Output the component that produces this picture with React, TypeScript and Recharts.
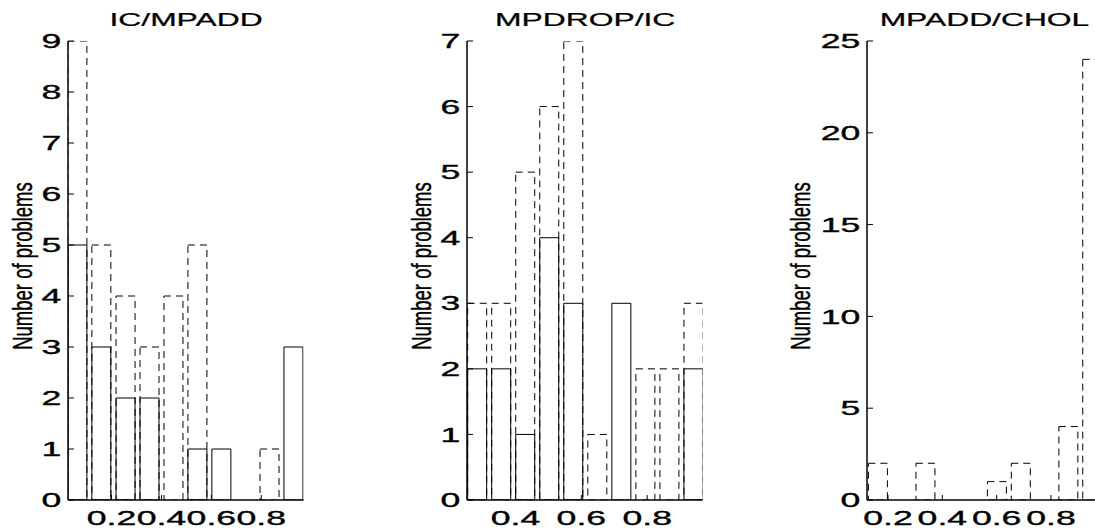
import React from 'react';
import { ComposedChart, Bar, XAxis, YAxis } from 'recharts';

const FONT = '"Liberation Sans", Arial, Helvetica, sans-serif';

const titles = ['IC/MPADD', 'MPDROP/IC', 'MPADD/CHOL'];
const yLabel = 'Number of problems';

// Panel 1: IC/MPADD
const centersA = [0.065, 0.161, 0.258, 0.354, 0.45, 0.546, 0.642, 0.738, 0.835, 0.931];
const solidA = [5, 3, 2, 2, 0, 1, 1, 0, 0, 3];
const dashedA = [9, 5, 4, 3, 4, 5, 0, 0, 1, 0];
const xDomainA: [number, number] = [0.0254, 0.9693];
const xTicksA = [0.2, 0.4, 0.6, 0.8];
const yDomainA: [number, number] = [0, 9];
const yTicksA = [0, 1, 2, 3, 4, 5, 6, 7, 8, 9];

// Panel 2: MPDROP/IC
const centersB = [0.282, 0.355, 0.428, 0.501, 0.574, 0.647, 0.72, 0.793, 0.866, 0.939];
const solidB = [2, 2, 1, 4, 3, 0, 3, 0, 0, 2];
const dashedB = [3, 3, 5, 6, 7, 1, 0, 2, 2, 3];
const xDomainB: [number, number] = [0.2526, 0.968];
const xTicksB = [0.4, 0.6, 0.8];
const yDomainB: [number, number] = [0, 7];
const yTicksB = [0, 1, 2, 3, 4, 5, 6, 7];

// Panel 3: MPADD/CHOL
const centersC = [0.164, 0.252, 0.339, 0.427, 0.515, 0.602, 0.69, 0.778, 0.865, 0.953];
const solidC = [0, 0, 0, 0, 0, 0, 0, 0, 0, 0];
const dashedC = [2, 0, 2, 0, 0, 1, 2, 0, 4, 24];
const xDomainC: [number, number] = [0.1227, 0.9895];
const xTicksC = [0.2, 0.4, 0.6, 0.8];
const yDomainC: [number, number] = [0, 25];
const yTicksC = [0, 5, 10, 15, 20, 25];

const PLOT_W = 235.5;
const Y_AXIS_W = 68;
const RIGHT_M = 6;
const TOP = 41;
const X_AXIS_H = 29;
const H = 529;

const TICK_FS = 20;
const TICK_SX = 1.78;

const LeftTick = (props: any) => {
  const { x, y, payload } = props;
  return (
    <g>
      <line x1={x} y1={y} x2={x + 6} y2={y} stroke="#000" strokeWidth={1} />
      <text
        transform={`translate(${x - 6.6},${y + 7.2}) scale(${TICK_SX},1)`}
        textAnchor="end"
        fontSize={TICK_FS}
        fontFamily={FONT}
        fill="#000"
        stroke="#000"
        strokeWidth={0.35}
      >
        {payload.value}
      </text>
    </g>
  );
};

const RightTick = (props: any) => {
  const { x, y } = props;
  return <line x1={x} y1={y} x2={x - 6} y2={y} stroke="#000" strokeWidth={1} />;
};

const BottomTick = (props: any) => {
  const { x, y, payload } = props;
  return (
    <g>
      <line x1={x} y1={y} x2={x} y2={y - 5} stroke="#000" strokeWidth={1} />
      <text
        transform={`translate(${x},${y + 24.5}) scale(${TICK_SX},1)`}
        textAnchor="middle"
        fontSize={TICK_FS}
        fontFamily={FONT}
        fill="#000"
        stroke="#000"
        strokeWidth={0.35}
      >
        {payload.value}
      </text>
    </g>
  );
};

const TopTick = (props: any) => {
  const { x, y } = props;
  return <line x1={x} y1={y} x2={x} y2={y + 5} stroke="#000" strokeWidth={1} />;
};

type PanelProps = {
  left: number;
  centers: number[];
  solid: number[];
  dashed: number[];
  xDomain: [number, number];
  xTicks: number[];
  yDomain: [number, number];
  yTicks: number[];
};

const axisLine = { stroke: '#000', strokeWidth: 1.5 };

function Panel({ left, centers, solid, dashed, xDomain, xTicks, yDomain, yTicks }: PanelProps) {
  const data = centers.map((x, i) => ({ x, solid: solid[i], dashed: dashed[i] }));
  return (
    <div style={{ position: 'absolute', left: left - Y_AXIS_W, top: 0 }}>
      <ComposedChart
        width={Y_AXIS_W + PLOT_W + RIGHT_M}
        height={H}
        data={data}
        margin={{ top: TOP, right: RIGHT_M, bottom: 0, left: 0 }}
      >
        <XAxis
          xAxisId="bottom"
          orientation="bottom"
          dataKey="x"
          type="number"
          domain={xDomain}
          allowDataOverflow
          ticks={xTicks}
          interval={0}
          height={X_AXIS_H}
          tickLine={false}
          tickSize={0}
          tickMargin={0}
          axisLine={axisLine}
          tick={<BottomTick />}
        />
        <XAxis
          xAxisId="top"
          orientation="top"
          dataKey="x"
          type="number"
          domain={xDomain}
          allowDataOverflow
          ticks={xTicks}
          interval={0}
          height={0}
          tickLine={false}
          tickSize={0}
          tickMargin={0}
          axisLine={axisLine}
          tick={<TopTick />}
        />
        <YAxis
          yAxisId="left"
          orientation="left"
          type="number"
          domain={yDomain}
          allowDataOverflow
          ticks={yTicks}
          interval={0}
          width={Y_AXIS_W}
          tickLine={false}
          tickSize={0}
          tickMargin={0}
          axisLine={axisLine}
          tick={<LeftTick />}
        />
        <YAxis
          yAxisId="right"
          orientation="right"
          type="number"
          domain={yDomain}
          allowDataOverflow
          ticks={yTicks}
          interval={0}
          width={0}
          tickLine={false}
          tickSize={0}
          tickMargin={0}
          axisLine={axisLine}
          tick={<RightTick />}
        />
        <Bar
          xAxisId="top"
          yAxisId="right"
          dataKey="dashed"
          barSize={19}
          fill="none"
          stroke="#000"
          strokeWidth={1}
          strokeDasharray="7 5"
          isAnimationActive={false}
        />
        <Bar
          xAxisId="bottom"
          yAxisId="left"
          dataKey="solid"
          barSize={19}
          fill="none"
          stroke="#000"
          strokeWidth={1}
          isAnimationActive={false}
        />
      </ComposedChart>
    </div>
  );
}

const panelLefts = [68.3, 467.4, 866.7];
const labelOffsets = [36, 36, 57];

export default function App() {
  return (
    <div
      style={{
        position: 'absolute',
        left: 0,
        top: 0,
        width: 1095,
        height: 529,
        overflow: 'hidden',
        background: '#fff',
      }}
    >
      <Panel left={panelLefts[0]} centers={centersA} solid={solidA} dashed={dashedA} xDomain={xDomainA} xTicks={xTicksA} yDomain={yDomainA} yTicks={yTicksA} />
      <Panel left={panelLefts[1]} centers={centersB} solid={solidB} dashed={dashedB} xDomain={xDomainB} xTicks={xTicksB} yDomain={yDomainB} yTicks={yTicksB} />
      <Panel left={panelLefts[2]} centers={centersC} solid={solidC} dashed={dashedC} xDomain={xDomainC} xTicks={xTicksC} yDomain={yDomainC} yTicks={yTicksC} />
      <svg
        width={1095}
        height={529}
        style={{ position: 'absolute', left: 0, top: 0, pointerEvents: 'none' }}
      >
        {panelLefts.map((l, i) => (
          <g key={i}>
            <text
              transform={`translate(${l + PLOT_W / 2},26) scale(1.71,1)`}
              textAnchor="middle"
              fontSize={18.6}
              fontFamily={FONT}
              fill="#000"
              stroke="#000"
              strokeWidth={0.25}
            >
              {titles[i]}
            </text>
            <text
              transform={`translate(${l - labelOffsets[i]},266) rotate(-90) scale(1,1.45)`}
              textAnchor="middle"
              fontSize={18.5}
              fontFamily={FONT}
              fill="#000"
              stroke="#000"
              strokeWidth={0.3}
            >
              {yLabel}
            </text>
          </g>
        ))}
      </svg>
    </div>
  );
}
